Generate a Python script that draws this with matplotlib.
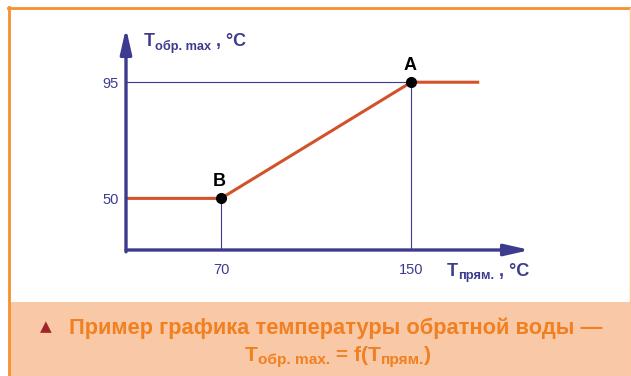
import matplotlib
matplotlib.use("Agg")
import matplotlib.pyplot as plt
from matplotlib.patches import Rectangle

# data
t_pryam = [30, 70, 150, 178]
t_obr = [50, 50, 95, 95]
x_ticks = [70, 150]
y_ticks = [50, 95]
point_names = ["B", "A"]
point_x = [70, 150]
point_y = [50, 95]

BLUE = "#3d3b8e"
RED = "#d2522a"
ORANGE = "#f08020"
PEACH = "#f9c8a6"
BORDER = "#f7902e"

W, H = 631, 376
plt.rcParams['font.family'] = ['Liberation Sans', 'DejaVu Sans']


def px(x, y):
    return x / W, 1 - y / H


def rich_text(fig, x, y, parts, color, width=None, center=False):
    # parts: (text, size, dy_px) drawn one after another on a common baseline,
    # optionally scaled so the whole run is `width` pixels wide
    r = fig.canvas.get_renderer()
    items = []
    for s, size, dy in parts:
        t = fig.text(0, 0, s, fontsize=size, fontweight='bold', color=color,
                     va='baseline', ha='left')
        items.append([t, size, dy])
    total = sum(t.get_window_extent(r).width for t, _, _ in items)
    if width:
        k = width / total
        for it in items:
            it[0].set_fontsize(it[1] * k)
        total = sum(t.get_window_extent(r).width for t, _, _ in items)
    cx = x - total / 2 if center else x
    for t, _, dy in items:
        t.set_position(px(cx, y + dy))
        cx += t.get_window_extent(r).width


fig = plt.figure(figsize=(W / 100, H / 100), dpi=100)

# frame and caption box
fig.patches.append(Rectangle(px(10, 376), 620 / W, 74 / H, transform=fig.transFigure,
                             facecolor=PEACH, edgecolor='none'))
fig.lines.append(plt.Line2D([8 / W, 1], [1 - 8 / H, 1 - 8 / H], transform=fig.transFigure,
                            color=BORDER, lw=2))
fig.lines.append(plt.Line2D([9 / W, 9 / W], [0, 1 - 7 / H], transform=fig.transFigure,
                            color=BORDER, lw=2))
fig.lines.append(plt.Line2D([630 / W, 630 / W], [0, 1 - 8 / H], transform=fig.transFigure,
                            color="#fbc9a4", lw=1))

ax = fig.add_axes([126 / W, 1 - 250 / H, 404 / W, 222 / H])
ax.set_xlim(30, 200)
ax.set_ylim(30, 116)
for s in ax.spines.values():
    s.set_visible(False)
ax.patch.set_alpha(0)

# guide lines
ax.hlines(point_y[1], 30, point_x[1], color=BLUE, lw=0.8)
ax.vlines(point_x, 30, point_y, color=BLUE, lw=0.8)

ax.plot(t_pryam, t_obr, color=RED, lw=2.2)
ax.plot(point_x, point_y, 'o', color='black', ms=7, zorder=5)
for name, x, y in zip(point_names, point_x, point_y):
    ax.annotate(name, (x, y), xytext=(-1, 6), textcoords='offset points',
                ha='center', va='bottom', fontsize=13, fontweight='bold')

# axes as arrows
arrow = dict(arrowstyle='-|>,head_length=0.75,head_width=0.17', color=BLUE, lw=2.4,
             shrinkA=0, shrinkB=0, mutation_scale=20)
ax.annotate('', xy=(200, 30), xytext=(30, 30), arrowprops=arrow, annotation_clip=False)
ax.annotate('', xy=(30, 116), xytext=(30, 29.3), arrowprops=arrow, annotation_clip=False)

ax.set_xticks(x_ticks)
ax.set_yticks(y_ticks)
ax.tick_params(length=0, colors=BLUE, labelsize=10.5)
ax.tick_params(axis='x', pad=9)
ax.tick_params(axis='y', pad=5)

# axis labels
rich_text(fig, 144, 46, [("T", 14, 0), ("обр. max", 10, 4), (" , °C", 14, 0)], BLUE, width=102)
rich_text(fig, 447, 276, [("T", 14, 0), ("прям.", 10, 3), (" , °C", 14, 0)], BLUE, width=83)

# caption
fig.text(*px(46, 327), "▲", color="#a3232a", fontsize=11, ha='center', va='center',
         family=['DejaVu Sans'])
rich_text(fig, 336, 334, [("Пример графика температуры обратной воды —", 15, 0)], ORANGE,
          width=537, center=True)
rich_text(fig, 338, 361, [("T", 15, 0), ("обр. max.", 11, 3), (" = f(T", 15, 0),
                          ("прям.", 11, 3), (")", 15, 0)], ORANGE, width=187, center=True)

fig.savefig("out.png", dpi=100)
